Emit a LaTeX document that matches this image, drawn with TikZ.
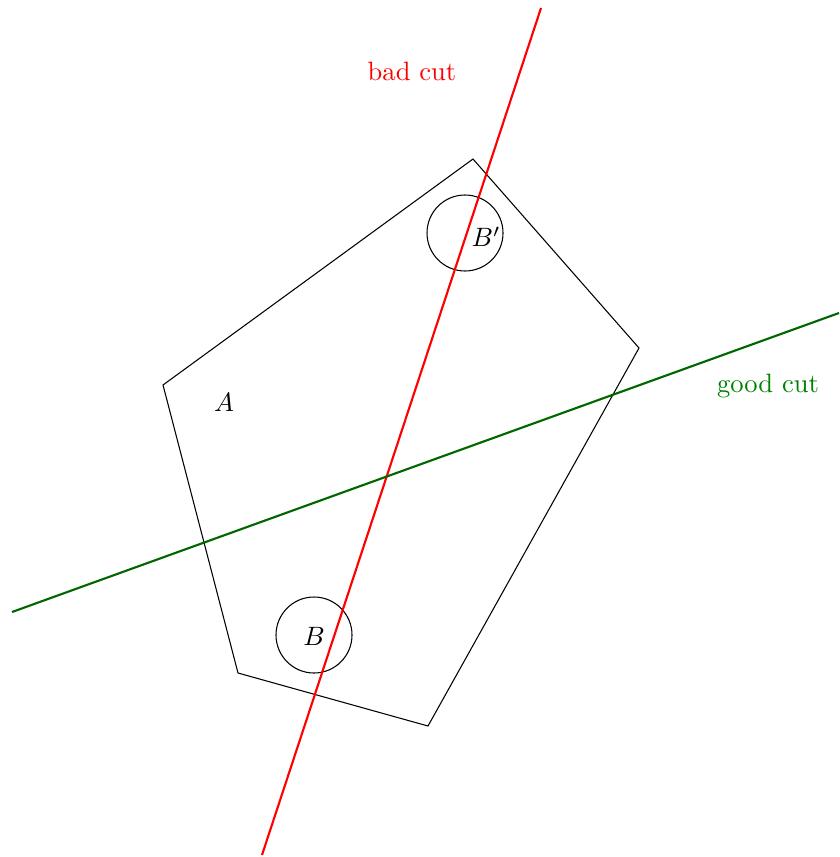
\documentclass[tikz,border=0pt]{standalone}
\begin{document}
\begin{tikzpicture}[x=0.3765pt,y=-0.3765pt,
  poly/.style={draw=black,line width=0.4pt,line join=miter},
  ball/.style={draw=black,line width=0.4pt,circle,minimum size=76*0.3765pt,inner sep=0pt},
  badline/.style={draw=red,line width=0.8pt},
  goodline/.style={draw=green!40!black,line width=0.8pt},
  lbl/.style={inner sep=0pt}]
\useasboundingbox (0,0) rectangle (839,857);
\coordinate (p1) at (163,385);
\coordinate (p2) at (473,159);
\coordinate (p3) at (639,348);
\coordinate (p4) at (428,726);
\coordinate (p5) at (238,673);
\draw[poly] (p1) -- (p2) -- (p3) -- (p4) -- (p5) -- cycle;
\node[ball] (cB) at (314,635) {};
\node[ball] (cBp) at (465,233) {};
\node[lbl] (B) at (314,636) {$B$};
\node[lbl] (Bp) at (486,237) {$B'$};
\node[lbl] (A) at (224,402) {$A$};
\coordinate (r1) at (541,8);
\coordinate (r2) at (262,855);
\coordinate (g1) at (12,612);
\coordinate (g2) at (839,313);
\draw[badline] (r1) -- (r2);
\draw[goodline] (g1) -- (g2);
\node[lbl,text=red] (bad) at (412,71) {bad cut};
\node[lbl,text=green!50!black] (good) at (768,386) {good cut};
\end{tikzpicture}
\end{document}
